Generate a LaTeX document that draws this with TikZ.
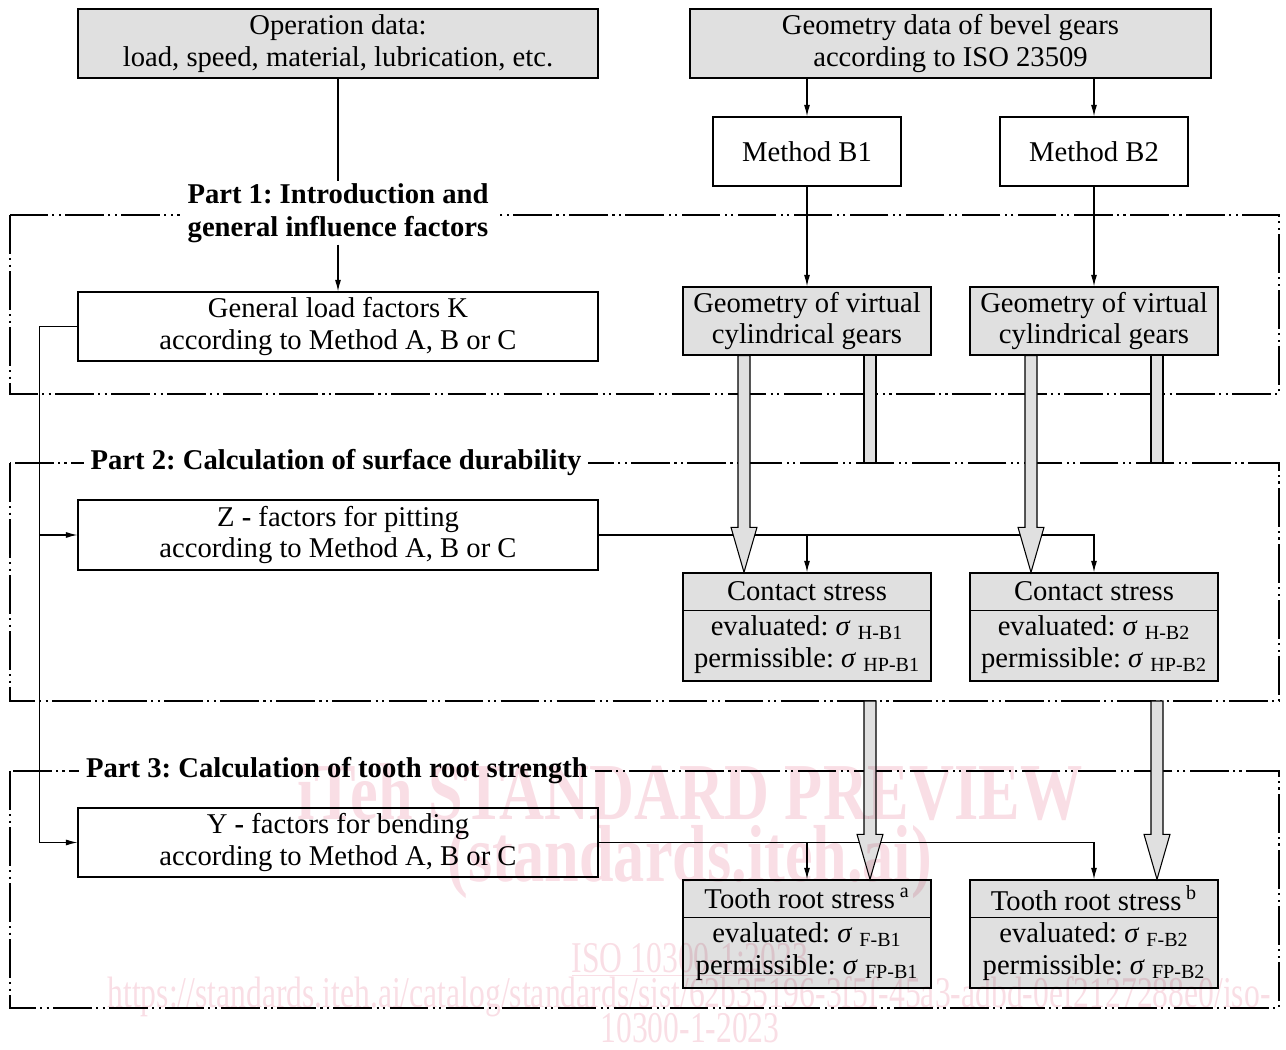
\documentclass[tikz,border=0pt]{standalone}
\usepackage{fontspec}
\setmainfont{Liberation Serif}
\usetikzlibrary{arrows.meta,calc}
\definecolor{boxgray}{RGB}{224,224,224}
\definecolor{wmpink}{RGB}{249,222,229}
\newcommand\mainfs{\fontsize{16.3}{18.1}\selectfont}
\newcommand\partfs{\fontsize{16.3}{18.6}\selectfont\bfseries}
\newcommand\sg[1]{\textit{σ} \textsubscript{#1}}
\frenchspacing
\begin{document}
\begin{tikzpicture}[x=0.02cm, y=-0.02cm,
 base/.style={draw, line width=0.8pt, inner sep=0pt, align=center, font=\mainfs},
 graybox/.style={base, fill=boxgray},
 whitebox/.style={base, fill=white},
 widebox/.style={minimum width=10.4cm, minimum height=1.38cm},
 methbox/.style={minimum width=3.76cm, minimum height=1.38cm},
 virtbox/.style={minimum width=4.96cm, minimum height=1.36cm},
 stressbox/.style={minimum width=4.96cm, minimum height=2.16cm},
 conn/.style={line width=0.6pt},
 arr/.style={conn, -{Latex[length=6.5pt,width=3.4pt]}},
 frame/.style={line width=0.6pt, dash pattern=on 22pt off 2.5pt on 1.2pt off 2.5pt on 1.2pt off 2.5pt},
 partlbl/.style={fill=white, inner xsep=4pt, inner ysep=1pt, align=center, font=\partfs},
 hollow/.style={draw, fill=boxgray, line width=0.6pt, line join=miter},
 intext/.style={inner sep=0pt, font=\mainfs, align=center},
 wmbig/.style={text=wmpink, inner sep=0pt, font=\fontsize{46}{50}\selectfont\bfseries},
 wmsmall/.style={text=wmpink, inner sep=0pt, font=\fontsize{25}{27}\selectfont}
]
\useasboundingbox (0,0) rectangle (1286,1050);

% frames
\draw[frame] (10,215) rectangle (1279,394);
\draw[frame] (10,463) rectangle (1279,701);
\draw[frame] (10,771) rectangle (1279,1008);

% top boxes
\node[graybox, widebox] (op) at (338,43.5) {Operation data:\\load, speed, material, lubrication, etc.};
\node[graybox, widebox, minimum width=10.42cm] (geo) at (950.5,43.5) {Geometry data of bevel gears\\according to ISO 23509};
\node[whitebox, methbox] (mb1) at (807,151.5) {Method B1};
\node[whitebox, methbox] (mb2) at (1094,151.5) {Method B2};
\node[graybox, virtbox] (vg1) at (807,321) {Geometry of virtual\\cylindrical gears};
\node[graybox, virtbox] (vg2) at (1094,321) {Geometry of virtual\\cylindrical gears};

% part labels
\node[partlbl] (p1) at (338,213) {Part 1: Introduction and\\general influence factors};
\node[partlbl] (p2) at (336,463) {Part 2: Calculation of surface durability};
\node[partlbl] (p3) at (337,771) {Part 3: Calculation of tooth root strength};

% left boxes
\node[whitebox, widebox] (glf) at (338,326.5) {General load factors K\\according to Method A, B or C};
\node[whitebox, widebox, minimum height=1.4cm] (zf) at (338,535) {Z \textbf{-} factors for pitting\\according to Method A, B or C};
\node[whitebox, widebox] (yf) at (338,842.5) {Y \textbf{-} factors for bending\\according to Method A, B or C};

% stress boxes
\node[graybox, stressbox] (cs1) at (807,627) {};
\node[graybox, stressbox] (cs2) at (1094,627) {};
\node[graybox, stressbox] (tr1) at (807,934) {};
\node[graybox, stressbox] (tr2) at (1094,934) {};
\foreach \b in {cs1,cs2,tr1,tr2}{
  \draw[line width=0.8pt] ($(\b.north west)+(0,38)$) -- ($(\b.north east)+(0,38)$);
}
\node[intext] (cs1h) at ($(cs1.north)+(0,19)$) {Contact stress};
\node[intext] (cs2h) at ($(cs2.north)+(0,19)$) {Contact stress};
\node[intext] (tr1h) at ($(tr1.north)+(0,19)$) {Tooth root stress\,\textsuperscript{a}};
\node[intext] (tr2h) at ($(tr2.north)+(0,19)$) {Tooth root stress\,\textsuperscript{b}};
\node[intext] (cs1b) at ($(cs1.north)+(0,72)$) {evaluated: \sg{H-B1}\\permissible: \sg{HP-B1}};
\node[intext] (cs2b) at ($(cs2.north)+(0,72)$) {evaluated: \sg{H-B2}\\permissible: \sg{HP-B2}};
\node[intext] (tr1b) at ($(tr1.north)+(0,72)$) {evaluated: \sg{F-B1}\\permissible: \sg{FP-B1}};
\node[intext] (tr2b) at ($(tr2.north)+(0,72)$) {evaluated: \sg{F-B2}\\permissible: \sg{FP-B2}};

% connectors
\draw[conn] (op.south) -- (p1.north);
\draw[arr] (p1.south) -- (glf.north);
\draw[arr] (mb1.north |- geo.south) -- (mb1.north);
\draw[arr] (mb2.north |- geo.south) -- (mb2.north);
\draw[arr] (mb1.south) -- (vg1.north);
\draw[arr] (mb2.south) -- (vg2.north);

\coordinate (ltop) at ($(glf.west)+(-38,0)$);
\coordinate (lz) at ($(zf.west)+(-38,0)$);
\coordinate (ly) at ($(yf.west)+(-38,0)$);
\draw[conn] (glf.west) -- (ltop) -- (ly);
\draw[arr] (ly) -- (yf.west);
\draw[arr] (lz) -- (zf.west);

\draw[arr] (zf.east) -| (cs2.north);
\draw[arr] (zf.east -| cs1.north) -- (cs1.north);
\draw[arr] (yf.east) -| (tr2.north);
\draw[arr] (yf.east -| tr1.north) -- (tr1.north);

% hollow arrows
\foreach \s/\t in {vg1/cs1, vg2/cs2}{
  \draw[hollow] ($(\s.south)+(-69,0)$) -- ($(\t.north)+(-69,-45)$) -- ($(\t.north)+(-76,-45)$)
     -- ($(\t.north)+(-63,0)$) -- ($(\t.north)+(-50,-45)$) -- ($(\t.north)+(-57,-45)$)
     -- ($(\s.south)+(-57,0)$) -- cycle;
}
\foreach \s/\t in {vg1/tr1, vg2/tr2}{
  \coordinate (hb) at ($(\s.south)+(63,0)$);
  \draw[hollow] ($(hb)+(-6,0)$) rectangle ($(hb |- 0,463)+(6,0)$);
  \draw[hollow] ($(hb |- 0,701)+(-6,0)$) -- ($(\t.north)+(57,-45)$) -- ($(\t.north)+(50,-45)$)
     -- ($(\t.north)+(63,0)$) -- ($(\t.north)+(76,-45)$) -- ($(\t.north)+(69,-45)$)
     -- ($(hb |- 0,701)+(6,0)$) -- cycle;
}

% watermark
\begin{scope}[blend mode=multiply]
\node[wmbig] (wm1) at (690,792) {\scalebox{0.77}[1]{iTeh STANDARD PREVIEW}};
\node[wmbig] (wm2) at (690,862) {\scalebox{0.77}[1]{(standards.iteh.ai)}};
\node[wmsmall] (wm3) at (690,960) {\scalebox{0.72}[1]{\underline{ISO 10300-1:2023}}};
\node[wmsmall] (wm4) at (689,997) {\scalebox{0.72}[1]{https://standards.iteh.ai/catalog/standards/sist/62b35196-3f5f-45a3-adbd-0ef2127288e0/iso-}};
\node[wmsmall] (wm5) at (690,1028) {\scalebox{0.72}[1]{10300-1-2023}};
\end{scope}
\end{tikzpicture}
\end{document}
